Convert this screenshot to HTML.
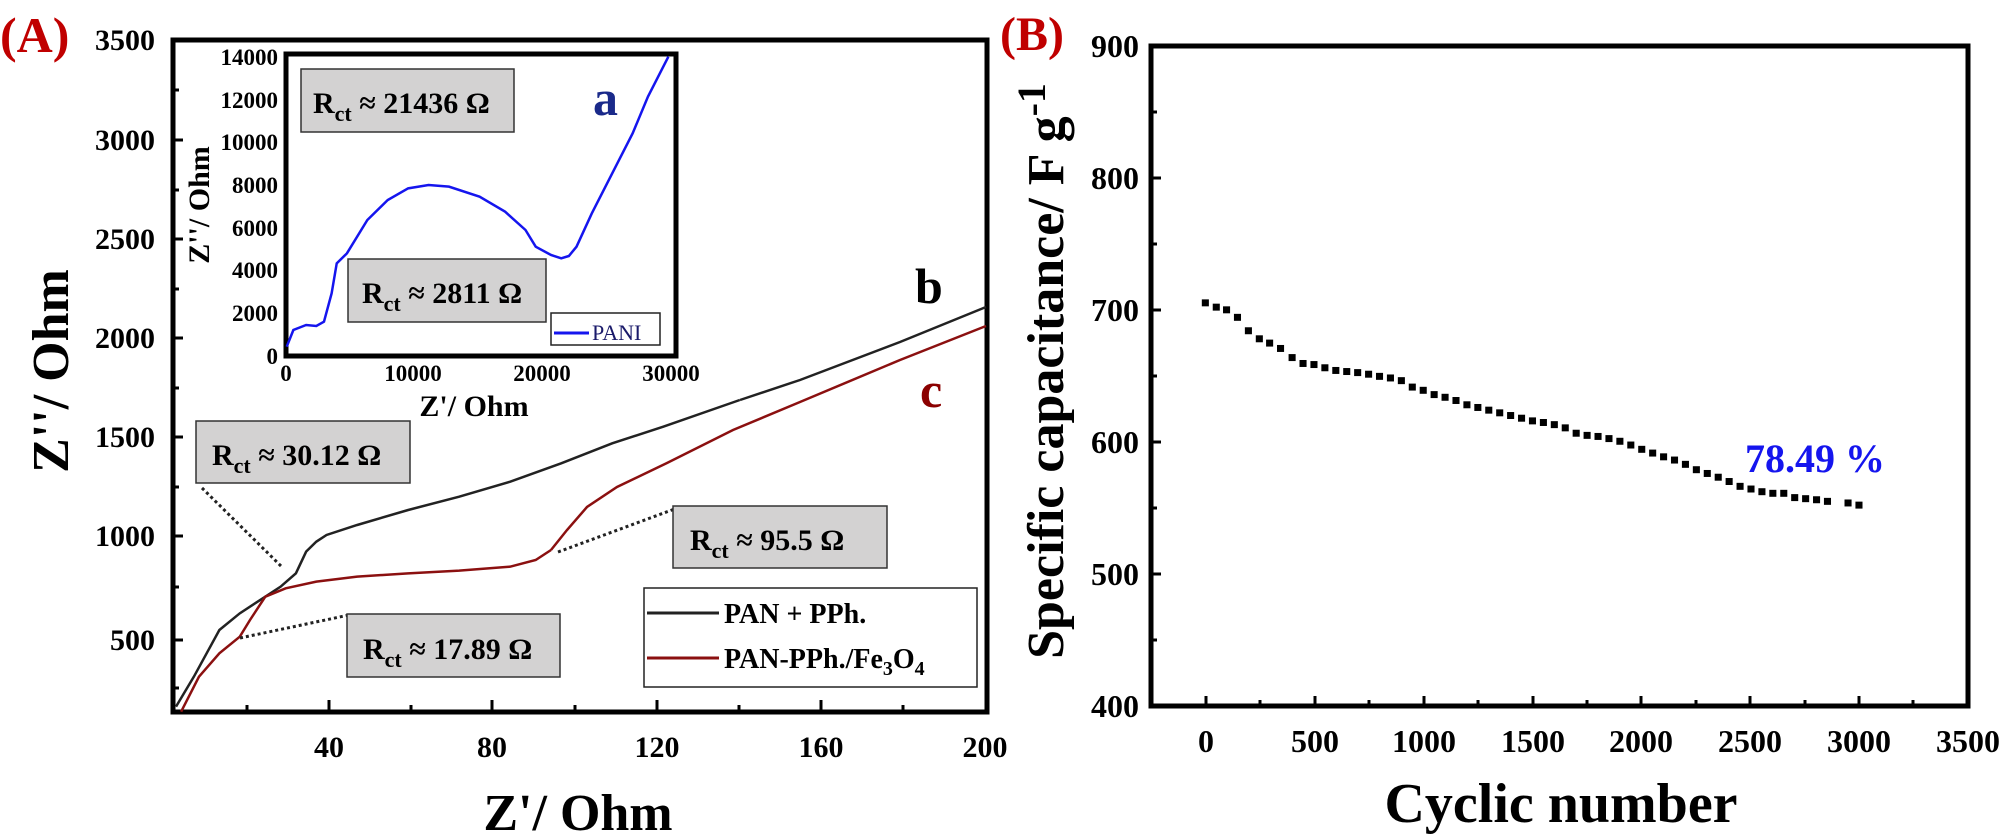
<!DOCTYPE html>
<html><head><meta charset="utf-8"><style>
html,body{margin:0;padding:0;background:#fff;}
svg{display:block;}
text{font-family:"Liberation Serif",serif;font-weight:bold;}
</style></head><body>
<svg width="2008" height="837" viewBox="0 0 2008 837" xmlns="http://www.w3.org/2000/svg">
<!-- Panel A -->
<text x="0" y="52" font-size="50" fill="#c00000">(A)</text>
<rect x="173" y="40" width="814" height="672" fill="none" stroke="#000" stroke-width="5"/>
<!-- y ticks main -->
<g stroke="#000" stroke-width="3">
<line x1="173" y1="140" x2="183" y2="140"/><line x1="173" y1="239" x2="183" y2="239"/>
<line x1="173" y1="338" x2="183" y2="338"/><line x1="173" y1="437" x2="183" y2="437"/>
<line x1="173" y1="536" x2="183" y2="536"/><line x1="173" y1="640" x2="183" y2="640"/>
<line x1="173" y1="90" x2="179" y2="90"/><line x1="173" y1="190" x2="179" y2="190"/>
<line x1="173" y1="289" x2="179" y2="289"/><line x1="173" y1="388" x2="179" y2="388"/>
<line x1="173" y1="487" x2="179" y2="487"/><line x1="173" y1="587" x2="179" y2="587"/>
<line x1="173" y1="688" x2="179" y2="688"/>
<line x1="329" y1="712" x2="329" y2="700"/><line x1="492" y1="712" x2="492" y2="700"/>
<line x1="657" y1="712" x2="657" y2="700"/><line x1="821" y1="712" x2="821" y2="700"/>
<line x1="247" y1="712" x2="247" y2="705"/><line x1="411" y1="712" x2="411" y2="705"/>
<line x1="575" y1="712" x2="575" y2="705"/><line x1="739" y1="712" x2="739" y2="705"/>
<line x1="903" y1="712" x2="903" y2="705"/>
</g>
<g font-size="30" text-anchor="end" fill="#000">
<text x="155" y="50">3500</text><text x="155" y="150">3000</text><text x="155" y="249">2500</text>
<text x="155" y="348">2000</text><text x="155" y="447">1500</text><text x="155" y="546">1000</text>
<text x="155" y="650">500</text>
</g>
<g font-size="30" text-anchor="middle" fill="#000">
<text x="329" y="757">40</text><text x="492" y="757">80</text><text x="657" y="757">120</text>
<text x="821" y="757">160</text><text x="985" y="757">200</text>
</g>
<text x="578" y="830" font-size="52" text-anchor="middle">Z'/ Ohm</text>
<text transform="translate(68,371) rotate(-90)" font-size="52" text-anchor="middle">Z''/ Ohm</text>
<!-- main curves -->
<g transform="translate(0,400) scale(0.5102,0.33333)" fill="none">
<polyline vector-effect="non-scaling-stroke" stroke="#222" stroke-width="2.5" points="345,920 380,830 430,690 470,640 520,590 550,560 580,520 600,455 620,425 640,405 700,375 800,330 900,290 1000,245 1100,190 1200,130 1300,80 1450,0"/>
<polyline vector-effect="non-scaling-stroke" stroke="#8b1010" stroke-width="2.5" points="355,935 390,830 430,760 470,710 490,660 520,590 560,565 620,545 700,530 800,520 900,512 1000,500 1050,480 1080,450"/>
</g>
<polyline fill="none" stroke="#222" stroke-width="2.5" points="740,400 800,380 900,342 986,307"/>
<polyline fill="none" stroke="#8b1010" stroke-width="2.5" points="551,550 567,530 587,507 617,487 667,463 733,430 800,402 900,360 986,326"/>
<text x="915" y="303" font-size="50" fill="#000">b</text>
<text x="920" y="407" font-size="50" fill="#8b0000">c</text>
<!-- annotation boxes -->
<g stroke="#222" stroke-width="3" stroke-dasharray="3,3" fill="none">
<line x1="202" y1="488" x2="283" y2="568"/>
<line x1="240" y1="638" x2="349" y2="615"/>
<line x1="558" y1="552" x2="680" y2="507"/>
<line x1="514" y1="137" x2="570" y2="250"/>
<line x1="324" y1="328" x2="348" y2="322"/>
</g>
<g fill="#d3d2d2" stroke="#333" stroke-width="1.5">
<rect x="196" y="421" width="214" height="62"/>
<rect x="347" y="614" width="213" height="63"/>
<rect x="673" y="506" width="214" height="62"/>
</g>
<g font-size="30" fill="#000">
<text x="212" y="465">R<tspan font-size="22" dy="8">ct</tspan><tspan dy="-8"> ≈ 30.12 Ω</tspan></text>
<text x="363" y="659">R<tspan font-size="22" dy="8">ct</tspan><tspan dy="-8"> ≈ 17.89 Ω</tspan></text>
<text x="690" y="550">R<tspan font-size="22" dy="8">ct</tspan><tspan dy="-8"> ≈ 95.5 Ω</tspan></text>
</g>
<!-- legend -->
<rect x="644" y="588" width="333" height="99" fill="#fff" stroke="#222" stroke-width="1.5"/>
<line x1="647" y1="613" x2="719" y2="613" stroke="#222" stroke-width="3"/>
<line x1="647" y1="658" x2="719" y2="658" stroke="#8b1010" stroke-width="3"/>
<text x="724" y="623" font-size="28">PAN + PPh.</text>
<text x="724" y="668" font-size="28">PAN-PPh./Fe<tspan font-size="20" dy="7">3</tspan><tspan dy="-7">O</tspan><tspan font-size="20" dy="7">4</tspan></text>
<!-- inset -->
<rect x="286" y="54" width="390" height="302" fill="#fff" stroke="#000" stroke-width="5"/>
<g font-size="23" text-anchor="end">
<text x="278" y="65">14000</text><text x="278" y="108">12000</text><text x="278" y="150">10000</text>
<text x="278" y="193">8000</text><text x="278" y="236">6000</text><text x="278" y="278">4000</text>
<text x="278" y="321">2000</text><text x="278" y="364">0</text>
</g>
<g font-size="23" text-anchor="middle">
<text x="286" y="381">0</text><text x="413" y="381">10000</text><text x="542" y="381">20000</text><text x="671" y="381">30000</text>
</g>
<text x="474" y="416" font-size="30" text-anchor="middle">Z'/ Ohm</text>
<text transform="translate(209,205) rotate(-90)" font-size="30" text-anchor="middle">Z''/ Ohm</text>
<g transform="scale(0.5102,0.33333)" fill="none">
<polyline vector-effect="non-scaling-stroke" stroke="#1515ee" stroke-width="2.5" points="562,1040 575,990 600,975 620,978 635,965 650,880 660,790 680,760 720,660 760,600 800,565 840,555 880,560 940,590 990,635 1030,690 1050,740 1080,765 1100,775 1115,768 1130,740 1160,640 1200,520 1240,400 1270,290 1310,170"/>
</g>
<g fill="#d3d2d2" stroke="#333" stroke-width="1.5">
<rect x="301" y="69" width="213" height="63"/>
<rect x="348" y="259" width="198" height="63"/>
</g>
<g font-size="30" fill="#000">
<text x="313" y="113">R<tspan font-size="22" dy="8">ct</tspan><tspan dy="-8"> ≈ 21436 Ω</tspan></text>
<text x="362" y="303">R<tspan font-size="22" dy="8">ct</tspan><tspan dy="-8"> ≈ 2811 Ω</tspan></text>
</g>
<text x="593" y="115" font-size="50" fill="#1a2a8a">a</text>
<rect x="551" y="313" width="109" height="32" fill="#fff" stroke="#222" stroke-width="1.5"/>
<line x1="554" y1="333" x2="589" y2="333" stroke="#1515ee" stroke-width="3"/>
<text x="592" y="340" font-size="22" font-weight="normal" style="font-weight:normal" fill="#1a1a6a">PANI</text>

<!-- Panel B -->
<text x="1000" y="50" font-size="48" fill="#c00000">(B)</text>
<rect x="1151" y="46" width="817" height="660" fill="none" stroke="#000" stroke-width="5"/>
<g stroke="#000" stroke-width="3">
<line x1="1151" y1="178" x2="1161" y2="178"/><line x1="1151" y1="310" x2="1161" y2="310"/>
<line x1="1151" y1="442" x2="1161" y2="442"/><line x1="1151" y1="574" x2="1161" y2="574"/>
<line x1="1151" y1="112" x2="1157" y2="112"/><line x1="1151" y1="244" x2="1157" y2="244"/>
<line x1="1151" y1="376" x2="1157" y2="376"/><line x1="1151" y1="508" x2="1157" y2="508"/>
<line x1="1151" y1="640" x2="1157" y2="640"/>
<line x1="1206" y1="706" x2="1206" y2="696"/><line x1="1315" y1="706" x2="1315" y2="696"/>
<line x1="1424" y1="706" x2="1424" y2="696"/><line x1="1533" y1="706" x2="1533" y2="696"/>
<line x1="1641" y1="706" x2="1641" y2="696"/><line x1="1750" y1="706" x2="1750" y2="696"/>
<line x1="1859" y1="706" x2="1859" y2="696"/><line x1="1913" y1="706" x2="1913" y2="700"/>
<line x1="1260" y1="706" x2="1260" y2="700"/><line x1="1369" y1="706" x2="1369" y2="700"/>
<line x1="1478" y1="706" x2="1478" y2="700"/><line x1="1587" y1="706" x2="1587" y2="700"/>
<line x1="1696" y1="706" x2="1696" y2="700"/><line x1="1805" y1="706" x2="1805" y2="700"/>
</g>
<g font-size="32" text-anchor="end">
<text x="1139" y="57">900</text><text x="1139" y="189">800</text><text x="1139" y="321">700</text>
<text x="1139" y="453">600</text><text x="1139" y="585">500</text><text x="1139" y="717">400</text>
</g>
<g font-size="32" text-anchor="middle">
<text x="1206" y="752">0</text><text x="1315" y="752">500</text><text x="1424" y="752">1000</text>
<text x="1533" y="752">1500</text><text x="1641" y="752">2000</text><text x="1750" y="752">2500</text>
<text x="1859" y="752">3000</text><text x="1968" y="752">3500</text>
</g>
<text x="1561" y="822" font-size="56" text-anchor="middle">Cyclic number</text>
<text transform="translate(1063,371) rotate(-90)" font-size="52" text-anchor="middle">Specific capacitance/ F g<tspan font-size="40" dy="-18">-1</tspan></text>
<text x="1745" y="472" font-size="40" fill="#1515ee">78.49 %</text>
<g transform="translate(1000,0) scale(0.6427,0.5365)" fill="#000">
<g transform="translate(-6,-7)">
<rect x="320" y="565" width="11" height="13"/><rect x="337" y="573" width="11" height="13"/>
<rect x="353" y="578" width="11" height="13"/><rect x="370" y="592" width="11" height="13"/>
<rect x="387" y="617" width="11" height="13"/><rect x="404" y="632" width="11" height="13"/>
<rect x="420" y="640" width="11" height="13"/><rect x="437" y="650" width="11" height="13"/>
<rect x="455" y="667" width="11" height="13"/><rect x="472" y="678" width="11" height="13"/>
<rect x="489" y="680" width="11" height="13"/><rect x="506" y="686" width="11" height="13"/>
<rect x="523" y="691" width="11" height="13"/><rect x="540" y="693" width="11" height="13"/>
<rect x="557" y="695" width="11" height="13"/><rect x="574" y="698" width="11" height="13"/>
<rect x="591" y="702" width="11" height="13"/><rect x="608" y="705" width="11" height="13"/>
<rect x="625" y="710" width="11" height="13"/><rect x="642" y="722" width="11" height="13"/>
<rect x="659" y="728" width="11" height="13"/><rect x="676" y="736" width="11" height="13"/>
<rect x="693" y="741" width="11" height="13"/><rect x="710" y="747" width="11" height="13"/>
<rect x="727" y="755" width="11" height="13"/><rect x="744" y="760" width="11" height="13"/>
<rect x="761" y="765" width="11" height="13"/><rect x="778" y="770" width="11" height="13"/>
<rect x="795" y="775" width="11" height="13"/><rect x="812" y="780" width="11" height="13"/>
<rect x="829" y="785" width="11" height="13"/><rect x="846" y="788" width="11" height="13"/>
<rect x="863" y="792" width="11" height="13"/><rect x="880" y="798" width="11" height="13"/>
<rect x="897" y="808" width="11" height="13"/><rect x="914" y="812" width="11" height="13"/>
<rect x="931" y="814" width="11" height="13"/><rect x="948" y="818" width="11" height="13"/>
<rect x="965" y="823" width="11" height="13"/><rect x="982" y="830" width="11" height="13"/>
<rect x="999" y="838" width="11" height="13"/><rect x="1016" y="845" width="11" height="13"/>
<rect x="1033" y="852" width="11" height="13"/><rect x="1050" y="858" width="11" height="13"/>
<rect x="1067" y="866" width="11" height="13"/><rect x="1084" y="876" width="11" height="13"/>
<rect x="1101" y="883" width="11" height="13"/><rect x="1118" y="890" width="11" height="13"/>
<rect x="1135" y="898" width="11" height="13"/><rect x="1152" y="907" width="11" height="13"/>
<rect x="1169" y="912" width="11" height="13"/><rect x="1186" y="917" width="11" height="13"/>
<rect x="1203" y="920" width="11" height="13"/><rect x="1220" y="920" width="11" height="13"/>
<rect x="1237" y="928" width="11" height="13"/><rect x="1254" y="930" width="11" height="13"/>
<rect x="1271" y="932" width="11" height="13"/><rect x="1288" y="935" width="11" height="13"/>
<rect x="1320" y="938" width="11" height="13"/><rect x="1337" y="942" width="11" height="13"/>
</g></g>
</svg>
</body></html>
